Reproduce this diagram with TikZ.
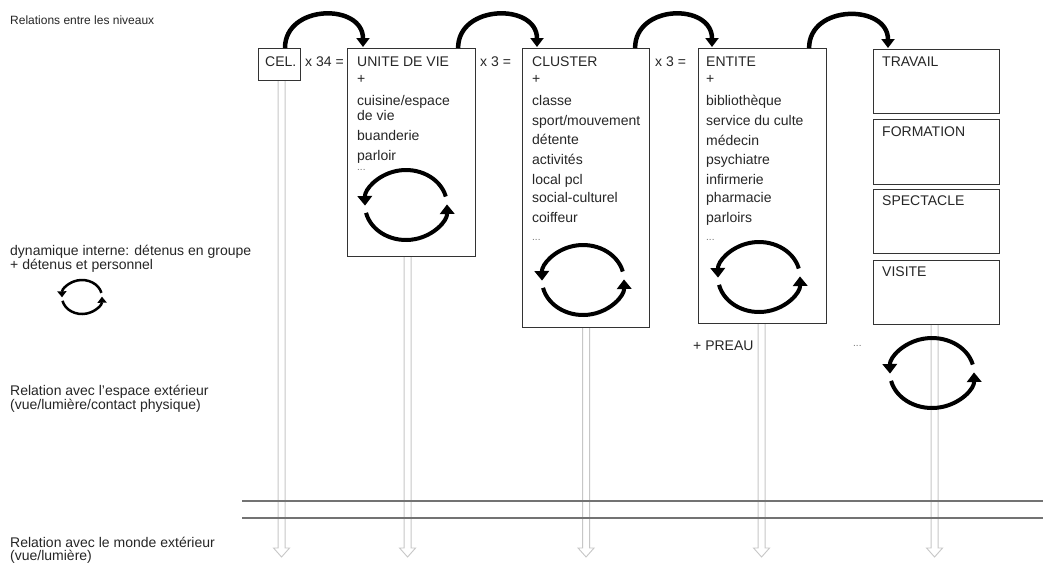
\documentclass[tikz,border=0pt]{standalone}
\usepackage{fontspec}
\setmainfont{Liberation Sans}
\usetikzlibrary{arrows.meta,calc}
\begin{document}
\begin{tikzpicture}[x=1pt,y=-1pt,
  lbl/.style={anchor=base west,inner sep=0pt,font=\fontsize{14}{15}\selectfont,text=black!85},
  dots/.style={anchor=base west,inner sep=0pt,font=\fontsize{10}{12}\selectfont,text=black!55},
  box/.style={draw=black!80,line width=1.1pt,fill=white,anchor=north west,inner sep=0pt},
  jump/.style={line width=4.5pt,-{Triangle[length=9pt,width=13pt]}},
  cycarr/.style={-{Triangle[length=0pt 2.4,width=0pt 3.6]}},
  wall/.style={draw=black!55,line width=2pt},
  drop/.style={draw=black!22,line width=0.9pt,fill=white},
  pics/cyc/.style n args={3}{code={
    \draw[cycarr,line width=#3] (-14:#1 and #2) arc[start angle=-14,end angle=-181,x radius=#1,y radius=#2];
    \draw[cycarr,line width=#3] (-193:#1 and #2) arc[start angle=-193,end angle=-361,x radius=#1,y radius=#2];
  }}
]
\useasboundingbox[fill=white] (0,0) rectangle (1043,565);

% boxes
\node[box,minimum width=42,minimum height=32] (cel) at (258,48) {};
\node[box,minimum width=128,minimum height=208] (unite) at (347,48) {};
\node[box,minimum width=127,minimum height=279] (cluster) at (522,48) {};
\node[box,minimum width=128,minimum height=275] (entite) at (698,48) {};
\node[box,minimum width=126,minimum height=64] (travail) at (873,49) {};
\node[box,minimum width=126,minimum height=65] (formation) at (873,119) {};
\node[box,minimum width=126,minimum height=64] (spectacle) at (873,189) {};
\node[box,minimum width=126,minimum height=64] (visite) at (873,260) {};

% vertical hollow arrows
\coordinate (gnd) at (0,548);
\coordinate (c1) at ($(cel.south)+(2,0)$);
\coordinate (c2) at ($(unite.south)+(-4,0)$);
\coordinate (c3) at ($(cluster.south)+(0,0)$);
\coordinate (c4) at ($(entite.south)+(-1,0)$);
\coordinate (c5) at ($(visite.south)+(-2,0)$);
\foreach \c in {c1,c2,c3,c4,c5}{
  \path[drop] ($(\c)+(-3.5,0)$) -- ($(\c|-gnd)+(-3.5,0)$) -- ($(\c|-gnd)+(-8,0)$)
    -- ($(\c|-gnd)+(0,9)$) -- ($(\c|-gnd)+(8,0)$) -- ($(\c|-gnd)+(3.5,0)$) -- ($(\c)+(3.5,0)$);
}

% walls
\coordinate (w1a) at (242,501); \coordinate (w1b) at (1043,501);
\coordinate (w2a) at (242,518); \coordinate (w2b) at (1043,518);
\draw[wall] (w1a) -- (w1b);
\draw[wall] (w2a) -- (w2b);

% jumps between levels
\draw[jump] ($(cel.north west)+(27,0)$) .. controls +(0,-44) and +(0,-44) .. ($(unite.north west)+(16,-1)$);
\draw[jump] ($(unite.north east)+(-18,0)$) .. controls +(0,-44) and +(0,-44) .. ($(cluster.north west)+(15,-1)$);
\draw[jump] ($(cluster.north east)+(-15,0)$) .. controls +(0,-44) and +(0,-44) .. ($(entite.north west)+(14,-1)$);
\draw[jump] ($(entite.north east)+(-18,0)$) .. controls +(0,-44) and +(0,-44) .. ($(travail.north west)+(15,-1)$);

% cycles
\pic at (406,205) {cyc={41}{35}{4pt}};
\pic at (583,280) {cyc={41}{35}{4pt}};
\pic at (759,277) {cyc={41}{35}{4pt}};
\pic at (932,373) {cyc={42}{35}{4pt}};
\pic at (82,297) {cyc={20}{17}{2.5pt}};

% left labels
\node[lbl,font=\fontsize{12}{14}\selectfont] (l1) at (10,24) {Relations entre les niveaux};
\node[lbl] (l2) at (10,255) {dynamique interne: détenus en groupe};
\node[lbl] (l3) at (10,269) {+ détenus et personnel};
\node[lbl] (l4) at (10,395) {Relation avec l’espace extérieur};
\node[lbl] (l5) at (10,409) {(vue/lumière/contact physique)};
\node[lbl] (l6) at (10,547) {Relation avec le monde extérieur};
\node[lbl] (l7) at (10,560) {(vue/lumière)};

% multipliers
\node[lbl] (m1) at (305,66) {x 34 =};
\node[lbl] (m2) at (480,66) {x 3 =};
\node[lbl] (m3) at (655,66) {x 3 =};

% CEL
\node[lbl] (tcel) at (265,66) {CEL.};

% UNITE DE VIE
\node[lbl] (u0) at (357,66) {UNITE DE VIE};
\node[lbl] (u1) at (357,83) {+};
\node[lbl] (u2) at (357,105) {cuisine/espace};
\node[lbl] (u3) at (357,120) {de vie};
\node[lbl] (u4) at (357,140) {buanderie};
\node[lbl] (u5) at (357,160) {parloir};
\node[dots] (u6) at (357,170) {...};

% CLUSTER
\node[lbl] (k0) at (532,66) {CLUSTER};
\node[lbl] (k1) at (532,83) {+};
\node[lbl] (k2) at (532,105) {classe};
\node[lbl] (k3) at (532,125) {sport/mouvement};
\node[lbl] (k4) at (532,144) {détente};
\node[lbl] (k5) at (532,164) {activités};
\node[lbl] (k6) at (532,184) {local pcl};
\node[lbl] (k7) at (532,202) {social-culturel};
\node[lbl] (k8) at (532,222) {coiffeur};
\node[dots] (k9) at (532,240) {...};

% ENTITE
\node[lbl] (e0) at (706,66) {ENTITE};
\node[lbl] (e1) at (706,83) {+};
\node[lbl] (e2) at (706,105) {bibliothèque};
\node[lbl] (e3) at (706,125) {service du culte};
\node[lbl] (e4) at (706,145) {médecin};
\node[lbl] (e5) at (706,164) {psychiatre};
\node[lbl] (e6) at (706,184) {infirmerie};
\node[lbl] (e7) at (706,202) {pharmacie};
\node[lbl] (e8) at (706,222) {parloirs};
\node[dots] (e9) at (706,240) {...};

% right column
\node[lbl] (r1) at (882,66) {TRAVAIL};
\node[lbl] (r2) at (882,136) {FORMATION};
\node[lbl] (r3) at (882,205) {SPECTACLE};
\node[lbl] (r4) at (882,276) {VISITE};

\node[lbl] (preau) at (693,350) {+ PREAU};
\node[dots] (etc) at (853,346) {...};
\end{tikzpicture}
\end{document}
